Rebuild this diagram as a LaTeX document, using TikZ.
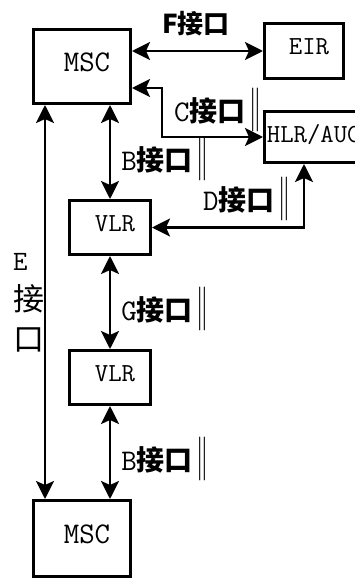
\documentclass[tikz,border=0pt]{standalone}
\usepackage{fontspec}
\setmonofont{Latin Modern Mono}
\newfontfamily\cjk{Noto Sans CJK SC}
\usetikzlibrary{arrows.meta,positioning,calc}
\newcommand{\jiekou}{{\cjk\bfseries\fontsize{28}{28}\selectfont 接口}}
\newcommand{\dbar}{\kern-5pt\raisebox{-5pt}{\scalebox{1}[1.45]{\cjk\fontsize{30}{30}\selectfont ‖}}}

\begin{document}
\begin{tikzpicture}[x=1pt,y=-1pt,
    unit/.style={draw,line width=3pt,inner sep=0pt,text depth=8pt,font=\ttfamily\fontsize{26}{26}\selectfont},
    nudge/.style={execute at begin node=\hspace*{10pt}},
    link/.style={line width=2.5pt,{Stealth[length=18pt,width=18pt,inset=4pt]}-{Stealth[length=18pt,width=18pt,inset=4pt]}},
    tag/.style={inner sep=0pt,font=\ttfamily\fontsize{30}{30}\selectfont}]
    \useasboundingbox (0,0) rectangle (355,579);
    \clip (0,0) rectangle (355,579);
    \node[unit,nudge,minimum width=97pt,minimum height=74pt,font=\ttfamily\fontsize{30}{30}\selectfont] (msc1) at (82,66.5) {MSC};
    \node[unit,nudge,minimum width=79pt,minimum height=55pt] (eir) at (304,51) {EIR};
    \node[unit,minimum width=98.5pt,minimum height=51pt] (hlr) at (313.75,137) {HLR/AUC};
    \node[unit,nudge,minimum width=81pt,minimum height=54pt] (vlr1) at (110,227.5) {VLR};
    \node[unit,nudge,minimum width=81pt,minimum height=54pt] (vlr2) at (110,377.5) {VLR};
    \node[unit,nudge,minimum width=97pt,minimum height=76pt,font=\ttfamily\fontsize{30}{30}\selectfont] (msc2) at (82,538.5) {MSC};
    \draw[link] (eir.west -| msc1.east) -- (eir.west);
    \node[font=\cjk\bfseries\fontsize{26}{26}\selectfont] (flbl) at (196,24) {F接口};
    \draw[link] ([yshift=-21.5pt]msc1.east) -- ++(30,0) |- (hlr.west);
    \node[tag,anchor=base west] (clbl) at (174,121) {C\jiekou\dbar};
    \draw[link] ([xshift=-9.75pt]hlr.south) |- (vlr1.east);
    \node[tag,anchor=base west] (dlbl) at (203,210) {D\jiekou\dbar};
    \draw[link] (vlr1.north |- msc1.south) -- (vlr1.north)
        node[tag,pos=0.57,anchor=west,xshift=10pt] (blbl1) {B\jiekou\dbar};
    \draw[link] (vlr1.south) -- (vlr2.north)
        node[tag,pos=0.57,anchor=west,xshift=10pt] (glbl) {G\jiekou\dbar};
    \draw[link] (vlr2.south) -- (vlr2.south |- msc2.north)
        node[tag,pos=0.57,anchor=west,xshift=10pt] (blbl2) {B\jiekou\dbar};
    \draw[link] ([xshift=-37pt]msc1.south) -- ([xshift=-37pt]msc2.north);
    \node[align=left,anchor=north west,inner sep=0pt,font=\cjk\fontsize{31}{40}\selectfont] (elbl) at (13,253)
        {{\ttfamily\fontsize{28}{40}\selectfont E}\\接\\口};
\end{tikzpicture}
\end{document}
